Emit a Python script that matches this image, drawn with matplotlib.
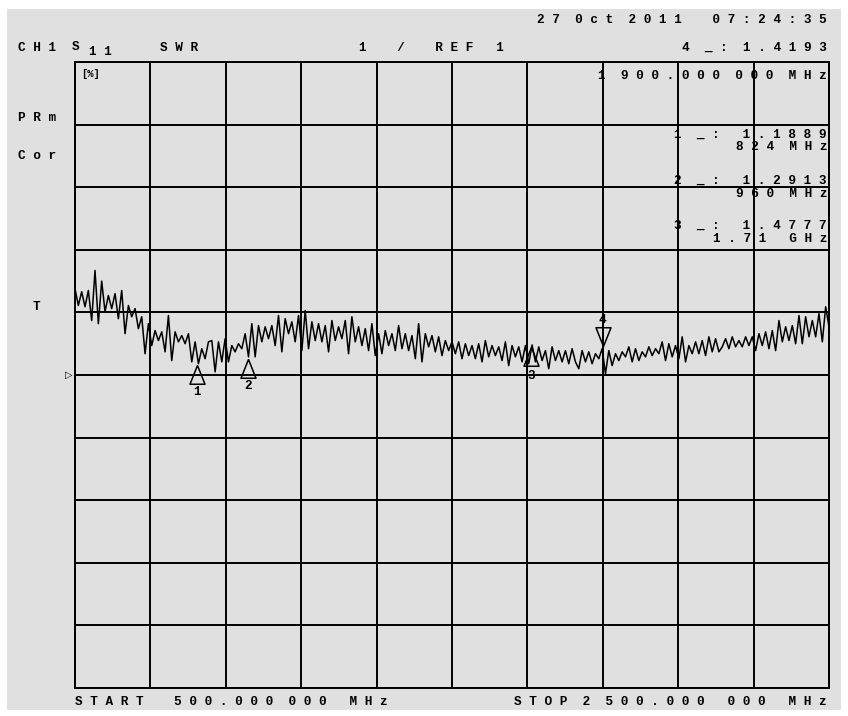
import numpy as np
import matplotlib.pyplot as plt
from matplotlib.path import Path

# Sweep settings (MHz) and SWR trace
start_mhz = 500
stop_mhz = 2500
swr = [
    # 500 - 1170 MHz
    2.38, 2.11, 2.33, 2.09, 2.35, 1.87, 2.67, 1.82, 2.50, 2.01,
    2.27, 2.06, 2.30, 1.90, 2.35, 1.66, 2.11, 1.93, 2.06, 1.74,
    1.93, 1.34, 1.82, 1.47, 1.71, 1.55, 1.69, 1.37, 1.95, 1.23,
    1.69, 1.53, 1.63, 1.50, 1.66, 1.21, 1.53, 1.18, 1.42, 1.26,
    1.53, 1.55, 1.05, 1.53, 1.21, 1.58, 1.21, 1.47, 1.37, 1.50,
    1.42, 1.66, 1.29, 1.82, 1.29, 1.79, 1.53, 1.77, 1.58, 1.79,
    1.47, 1.95, 1.37, 1.90, 1.66, 1.85, 1.53, 1.95, 1.39, 2.03,
    1.42, 1.85, 1.55, 1.82, 1.53, 1.79,
    # 1170 - 1830 MHz
    1.37, 1.87, 1.55, 1.77, 1.58, 1.87, 1.34, 1.93, 1.53, 1.77,
    1.47, 1.74, 1.39, 1.82, 1.31, 1.66, 1.34, 1.71, 1.47, 1.66,
    1.39, 1.79, 1.42, 1.66, 1.39, 1.63, 1.26, 1.82, 1.21, 1.66,
    1.45, 1.63, 1.37, 1.61, 1.31, 1.55, 1.39, 1.53, 1.34, 1.53,
    1.26, 1.50, 1.31, 1.47, 1.26, 1.50, 1.21, 1.55, 1.29, 1.47,
    1.31, 1.45, 1.23, 1.53, 1.15, 1.47, 1.29, 1.45, 1.21, 1.47,
    1.18, 1.48, 1.21, 1.45, 1.23, 1.39, 1.10, 1.45, 1.23, 1.39,
    1.21, 1.39, 1.18, 1.42, 1.21,
    # 1830 - 2500 MHz
    1.10, 1.39, 1.21, 1.37, 1.18, 1.34, 1.26, 1.42, 1.02, 1.39,
    1.15, 1.34, 1.23, 1.37, 1.29, 1.45, 1.21, 1.42, 1.23, 1.37,
    1.29, 1.45, 1.31, 1.42, 1.34, 1.53, 1.23, 1.50, 1.29, 1.47,
    1.26, 1.61, 1.21, 1.47, 1.34, 1.53, 1.34, 1.55, 1.31, 1.61,
    1.37, 1.58, 1.37, 1.45, 1.58, 1.42, 1.61, 1.45, 1.55, 1.45,
    1.61, 1.47, 1.61, 1.39, 1.66, 1.47, 1.69, 1.42, 1.71, 1.39,
    1.87, 1.53, 1.77, 1.55, 1.79, 1.50, 1.95, 1.50, 1.93, 1.61,
    1.87, 1.61, 1.98, 1.53, 2.09, 1.77,
]
freq = np.linspace(start_mhz, stop_mhz, len(swr))

# markers: number, frequency (MHz), value
marker_ids = [1, 2, 3, 4]
marker_freq = [824, 960, 1710, 1900]
marker_val = [1.1889, 1.2913, 1.4777, 1.4193]

bg = '#e0e0e0'
mono = 'Liberation Mono'
fs = 9.2


def spaced(s):
    return ' '.join(s)


fig = plt.figure(figsize=(8.48, 7.16), dpi=100, facecolor='white')
fig.patches.append(plt.Rectangle((0.008, 0.008), 0.984, 0.98, transform=fig.transFigure,
                                 facecolor=bg, edgecolor='none', zorder=-1))
ax = fig.add_axes([75 / 848, 1 - 688 / 716, 754 / 848, 626 / 716])
ax.set_facecolor(bg)
ax.set_xlim(start_mhz, stop_mhz)
ax.set_ylim(-4, 6)
ax.set_xticks(np.arange(start_mhz, stop_mhz + 1, 200))
ax.set_yticks(np.arange(-4, 7, 1))
ax.grid(True, color='black', linewidth=1.4)
ax.tick_params(length=0, labelbottom=False, labelleft=False)
for s in ax.spines.values():
    s.set_linewidth(1.4)

ax.plot(freq, swr, color='black', linewidth=1.1, zorder=3)

# triangle markers with their tip on the trace
up_tri = Path([(0, 0), (-0.4, -1), (0.4, -1), (0, 0)])
down_tri = Path([(0, 0), (-0.4, 1), (0.4, 1), (0, 0)])
for mid, mf, mv in zip(marker_ids, marker_freq, marker_val):
    if mid == 4:
        ax.plot(mf, mv + 0.05, marker=down_tri, markersize=27, markerfacecolor='none',
                markeredgecolor='black', markeredgewidth=1.1, zorder=4)
        ax.annotate(str(mid), (mf, mv), xytext=(0, 21), textcoords='offset points',
                    ha='center', va='center', fontsize=fs, family=mono, weight='bold')
    else:
        ax.plot(mf, mv - 0.03, marker=up_tri, markersize=27, markerfacecolor='none',
                markeredgecolor='black', markeredgewidth=1.1, zorder=4)
        dy = -21 if mid != 3 else -22
        ax.annotate(str(mid), (mf, mv), xytext=(0, dy), textcoords='offset points',
                    ha='center', va='center', fontsize=fs, family=mono, weight='bold')


# screen texts
def ftext(x, y, s, size=fs, family=mono, **kw):
    fig.text(x / 848, 1 - y / 716, s, fontsize=size, family=family, weight='bold',
             va='center', **kw)


ftext(827, 20, '2 7  0 c t  2 0 1 1    0 7 : 2 4 : 3 5', ha='right')
ftext(18, 48, spaced('CH1'))
ftext(72, 47, 'S')
ftext(89, 52, '1 1')
ftext(160, 48, spaced('SWR'))
ftext(359, 48, '1    /    R E F   1')
ftext(827, 48, '4  _ :  1 . 4 1 9 3', ha='right')
ftext(18, 118, spaced('PRm'))
ftext(18, 156, spaced('Cor'))
ftext(33, 307, 'T')
ftext(65, 375, '▷', size=7, family=['DejaVu Sans'])
ftext(81, 74, '[%]', size=7.5)

# marker readouts inside the grid
ftext(827, 76, '1  9 0 0 . 0 0 0  0 0 0  M H z', ha='right')
ftext(827, 135, '1  _ :   1 . 1 8 8 9', ha='right')
ftext(827, 147, '8 2 4  M H z', ha='right')
ftext(827, 181, '2  _ :   1 . 2 9 1 3', ha='right')
ftext(827, 194, '9 6 0  M H z', ha='right')
ftext(827, 226, '3  _ :   1 . 4 7 7 7', ha='right')
ftext(827, 239, '1 . 7 1   G H z', ha='right')

# footer
ftext(75, 702, 'S T A R T    5 0 0 . 0 0 0  0 0 0   M H z')
ftext(827, 702, 'S T O P  2  5 0 0 . 0 0 0   0 0 0   M H z', ha='right')

fig.savefig('out.png', dpi=100, facecolor=fig.get_facecolor())
